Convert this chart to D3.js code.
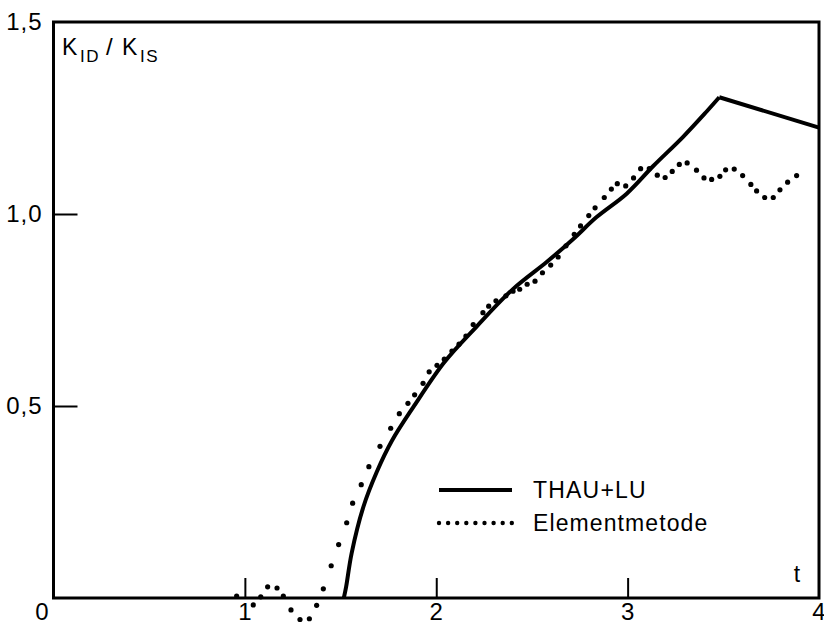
<!DOCTYPE html>
<html>
<head>
<meta charset="utf-8">
<script src="https://cdn.jsdelivr.net/npm/d3@7"></script>
<style>
  html, body { margin: 0; padding: 0; background: #fff; }
  svg { display: block; }
  text { font-family: "Liberation Sans", Arial, sans-serif; fill: #000; }
</style>
</head>
<body>
<svg id="chart" width="824" height="626"></svg>
<script>
// ---- data ----
const xTicks = [1, 2, 3, 4];
const yTicks = [0.5, 1.0, 1.5];
const seriesNames = ["THAU+LU", "Elementmetode"];

// THAU+LU (solid line): t, K_ID/K_IS
const thauT = [1.517, 1.529, 1.558, 1.619, 1.689, 1.769, 1.880, 2.042, 2.211, 2.402, 2.577, 2.716, 2.838, 2.995, 3.134, 3.290, 3.413, 3.479, 4.0];
const thauV = [0.000, 0.029, 0.117, 0.237, 0.328, 0.410, 0.497, 0.614, 0.707, 0.805, 0.875, 0.935, 0.992, 1.053, 1.125, 1.201, 1.267, 1.304, 1.225];
const thauPeakIndex = 17;

// Elementmetode (dotted): t, K_ID/K_IS
const elemT = [0.957, 1.044, 1.083, 1.119, 1.168, 1.201, 1.241, 1.288, 1.337, 1.375, 1.410, 1.451, 1.490, 1.532, 1.563, 1.608, 1.648, 1.706, 1.762, 1.807,
               1.852, 1.887, 1.931, 1.963, 2.004, 2.042, 2.082, 2.119, 2.155, 2.193, 2.244, 2.274, 2.312, 2.364, 2.401, 2.436, 2.475, 2.516, 2.555, 2.598,
               2.637, 2.678, 2.721, 2.754, 2.797, 2.830, 2.878, 2.915, 2.946, 2.990, 3.031, 3.068, 3.113, 3.155, 3.196, 3.233, 3.270, 3.311, 3.360, 3.399,
               3.439, 3.482, 3.512, 3.557, 3.601, 3.644, 3.674, 3.716, 3.761, 3.796, 3.836, 3.883];
const elemV = [0.005, -0.018, 0.003, 0.029, 0.026, 0.005, -0.031, -0.056, -0.054, -0.019, 0.024, 0.084, 0.139, 0.196, 0.247, 0.295, 0.342, 0.395, 0.442, 0.480,
               0.507, 0.529, 0.559, 0.589, 0.606, 0.622, 0.643, 0.661, 0.682, 0.712, 0.743, 0.760, 0.774, 0.787, 0.799, 0.804, 0.817, 0.825, 0.847, 0.867,
               0.888, 0.917, 0.947, 0.969, 0.996, 1.016, 1.043, 1.065, 1.079, 1.073, 1.094, 1.118, 1.118, 1.101, 1.095, 1.111, 1.129, 1.133, 1.114, 1.094,
               1.090, 1.098, 1.115, 1.117, 1.100, 1.077, 1.060, 1.043, 1.043, 1.063, 1.083, 1.100];

// ---- layout ----
const L = 53.5, R = 819, T = 22, B = 598;
const svg = d3.select("#chart");
const x = d3.scaleLinear().domain([0, 4]).range([L, R]);
const y = d3.scaleLinear().domain([0, 1.5]).range([B, T]);
const fmt = d3.formatLocale({decimal: ",", thousands: ".", grouping: [3], currency: ["", ""]}).format(".1f");

// axes
const xAxis = svg.append("g").attr("transform", `translate(0,${B})`)
  .call(d3.axisBottom(x).tickValues(xTicks).tickSize(-20).tickPadding(5).tickFormat(d3.format("d")));
const yAxis = svg.append("g").attr("transform", `translate(${L},0)`)
  .call(d3.axisLeft(y).tickValues(yTicks).tickSize(-24).tickPadding(11).tickFormat(fmt));
[xAxis, yAxis].forEach(g => {
  g.select(".domain").remove();
  g.selectAll(".tick line").attr("stroke", "#000").attr("stroke-width", 2);
  g.selectAll(".tick text").style("font-size", "24px").style("letter-spacing", "1px").attr("fill", "#000");
});
xAxis.selectAll(".tick").filter(d => d === 4).select("line").remove();
yAxis.selectAll(".tick").filter(d => d === 1.5).select("line").remove();

// origin label
svg.append("text").attr("x", x(0) - 5).attr("y", B + 22).attr("text-anchor", "end")
  .style("font-size", "24px").text("0");

// frame
svg.append("rect").attr("x", L).attr("y", T).attr("width", R - L).attr("height", B - T)
  .attr("fill", "none").attr("stroke", "#000").attr("stroke-width", 3);

// axis titles
const yt = svg.append("text").attr("y", 55).style("font-size", "23px");
yt.append("tspan").attr("x", 62).text("K");
yt.append("tspan").attr("x", 80).attr("y", 62).style("font-size", "17px").style("letter-spacing", "1.5px").text("ID");
yt.append("tspan").attr("x", 106).attr("y", 55).style("font-size", "24px").text("/");
yt.append("tspan").attr("x", 122).attr("y", 55).text("K");
yt.append("tspan").attr("x", 140).attr("y", 62).style("font-size", "17px").style("letter-spacing", "1.5px").text("IS");

svg.append("text").attr("x", 797).attr("y", 582).attr("text-anchor", "middle")
  .style("font-size", "23px").text("t");

// solid line
const thau = thauT.map((t, i) => ({t, v: thauV[i]}));
const curveLine = d3.line().x(d => x(d.t)).y(d => y(d.v)).curve(d3.curveCatmullRom.alpha(0.5));
const straightLine = d3.line().x(d => x(d.t)).y(d => y(d.v));
svg.append("path").datum(thau.slice(0, thauPeakIndex + 1)).attr("d", curveLine)
  .attr("fill", "none").attr("stroke", "#000").attr("stroke-width", 4).attr("stroke-linejoin", "round");
svg.append("path").datum(thau.slice(thauPeakIndex)).attr("d", straightLine)
  .attr("fill", "none").attr("stroke", "#000").attr("stroke-width", 4).attr("stroke-linejoin", "round");

// dots
const elem = elemT.map((t, i) => ({t, v: elemV[i]}));
svg.append("g").selectAll("circle").data(elem).join("circle")
  .attr("cx", d => x(d.t)).attr("cy", d => y(d.v)).attr("r", 2.6).attr("fill", "#000");

// legend
const lg = svg.append("g");
lg.append("line").attr("x1", 439).attr("x2", 512).attr("y1", 490).attr("y2", 490)
  .attr("stroke", "#000").attr("stroke-width", 4);
lg.append("text").attr("x", 533).attr("y", 498).style("font-size", "23px").style("letter-spacing", "1.2px").text(seriesNames[0]);
lg.selectAll("circle").data(d3.range(9)).join("circle")
  .attr("cx", i => 439 + i * 9.1).attr("cy", 523).attr("r", 2.2).attr("fill", "#000");
lg.append("text").attr("x", 533).attr("y", 531).style("font-size", "23px").style("letter-spacing", "1.1px").text(seriesNames[1]);
</script>
</body>
</html>
